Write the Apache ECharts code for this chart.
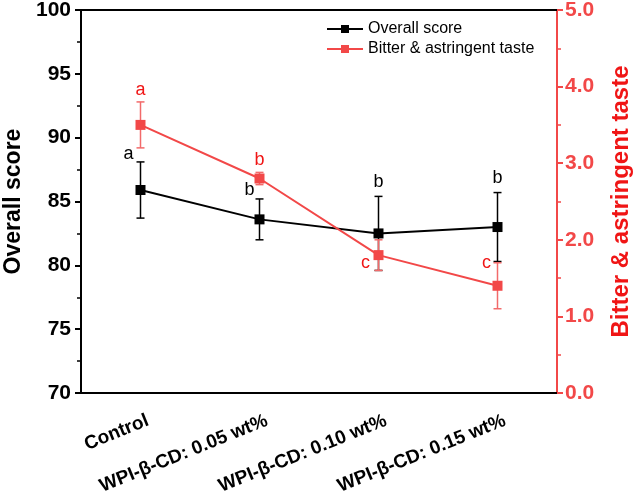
<!DOCTYPE html>
<html>
<head>
<meta charset="utf-8">
<script src="https://cdn.jsdelivr.net/npm/echarts@6/dist/echarts.min.js"></script>
<style>
  html, body { margin: 0; padding: 0; background: #fff; }
  #chart { width: 633px; height: 491px; }
</style>
</head>
<body>
<div id="chart"></div>
<script>
// data
const categories = ['Control', 'WPI-β-CD: 0.05 wt%', 'WPI-β-CD: 0.10 wt%', 'WPI-β-CD: 0.15 wt%'];
const overallScore = [85.9, 83.6, 82.5, 83.0];
const overallErr = [2.2, 1.6, 2.9, 2.7];
const overallLetters = ['a', 'b', 'b', 'b'];
const bitterTaste = [3.5, 2.8, 1.8, 1.4];
const bitterErr = [0.3, 0.08, 0.2, 0.3];
const bitterLetters = ['a', 'b', 'c', 'c'];
const leftTicks = [70, 75, 80, 85, 90, 95, 100];
const rightTicks = [0.0, 1.0, 2.0, 3.0, 4.0, 5.0];

const FONT = '"Liberation Sans", Arial, sans-serif';
const BLACK = '#000';
const RED = '#f24848';
const RED_BAR = '#f26a6a';
const RED_TXT = '#f01515';

// where each significance letter sits relative to its error bar: [end, dx, dy]
const overallLetterPos = [['high', -12, -8], ['high', -10, -9], ['high', 0, -14], ['high', 0, -15]];
const bitterLetterPos = [['high', 0, -12], ['high', 0, -12], ['low', -13, -7], ['high', -11, 0]];

function errorBarSeries(values, errs, letters, letterPos, yAxisIndex, color, textColor) {
  return {
    type: 'custom',
    yAxisIndex: yAxisIndex,
    data: values.map((v, i) => [i, v - errs[i], v + errs[i], letters[i]]),
    encode: { x: 0, y: [1, 2] },
    silent: true,
    renderItem: function (params, api) {
      const i = api.value(0);
      const lo = api.coord([i, api.value(1)]);
      const hi = api.coord([i, api.value(2)]);
      const w = 4;
      const st = { stroke: color, lineWidth: 1.5 };
      const pos = letterPos[params.dataIndex];
      const anchor = pos[0] === 'high' ? hi : lo;
      return {
        type: 'group',
        children: [
          { type: 'line', shape: { x1: hi[0], y1: hi[1], x2: lo[0], y2: lo[1] }, style: st },
          { type: 'line', shape: { x1: hi[0] - w, y1: hi[1], x2: hi[0] + w, y2: hi[1] }, style: st },
          { type: 'line', shape: { x1: lo[0] - w, y1: lo[1], x2: lo[0] + w, y2: lo[1] }, style: st },
          {
            type: 'text',
            style: {
              text: api.value(3),
              x: anchor[0] + pos[1],
              y: anchor[1] + pos[2],
              align: 'center',
              verticalAlign: 'middle',
              fill: textColor,
              font: '18px ' + FONT
            }
          }
        ]
      };
    }
  };
}

const chart = echarts.init(document.getElementById('chart'));

chart.setOption({
  animation: false,
  backgroundColor: '#fff',
  textStyle: { fontFamily: FONT },
  grid: { left: 81, right: 76, top: 10, bottom: 98, containLabel: false, outerBoundsMode: 'none' },
  legend: {
    orient: 'vertical',
    left: 321,
    top: 16,
    itemWidth: 36,
    itemHeight: 10,
    itemGap: 4,
    textStyle: { fontSize: 16, color: '#000', fontFamily: FONT },
    data: ['Overall score', 'Bitter & astringent taste']
  },
  xAxis: [
    {
      type: 'category',
      data: categories,
      boundaryGap: true,
      axisLine: { lineStyle: { color: BLACK, width: 2 } },
      axisTick: { alignWithLabel: true, length: 6, lineStyle: { color: BLACK, width: 2 } },
      axisLabel: {
        rotate: 22,
        margin: 30,
        padding: [0, -8, 0, 0],
        interval: 0,
        color: '#000',
        fontWeight: 'bold',
        fontSize: 19,
        fontFamily: FONT
      },
      splitLine: { show: false }
    },
    {
      // boundary ticks between categories
      type: 'category',
      data: categories,
      position: 'bottom',
      boundaryGap: true,
      axisLine: { show: false },
      axisTick: { length: 4, lineStyle: { color: BLACK, width: 1.5 } },
      axisLabel: { show: false },
      splitLine: { show: false }
    },
    {
      // top frame line
      type: 'category',
      data: categories,
      position: 'top',
      axisLine: { lineStyle: { color: BLACK, width: 2 } },
      axisTick: { show: false },
      axisLabel: { show: false },
      splitLine: { show: false }
    }
  ],
  yAxis: [
    {
      type: 'value',
      min: leftTicks[0],
      max: leftTicks[leftTicks.length - 1],
      interval: 5,
      name: 'Overall score',
      nameLocation: 'middle',
      nameGap: 55,
      nameTextStyle: { fontSize: 23, fontWeight: 'bold', color: '#000', fontFamily: FONT },
      axisLine: { show: true, lineStyle: { color: BLACK, width: 2 } },
      axisTick: { show: true, length: 6, lineStyle: { color: BLACK, width: 2 } },
      minorTick: { show: true, splitNumber: 2, length: 4, lineStyle: { color: BLACK, width: 1.5 } },
      axisLabel: { fontSize: 21, fontWeight: 'bold', color: '#000', margin: 10, fontFamily: FONT },
      splitLine: { show: false }
    },
    {
      type: 'value',
      min: rightTicks[0],
      max: rightTicks[rightTicks.length - 1],
      interval: 1,
      position: 'right',
      name: 'Bitter & astringent taste',
      nameLocation: 'middle',
      nameGap: 52,
      nameRotate: 90,
      nameTextStyle: { fontSize: 24, fontWeight: 'bold', color: RED_TXT, fontFamily: FONT },
      axisLine: { show: true, lineStyle: { color: RED, width: 2 } },
      axisTick: { show: true, length: 6, lineStyle: { color: RED, width: 2 } },
      minorTick: { show: true, splitNumber: 2, length: 4, lineStyle: { color: RED, width: 1.5 } },
      axisLabel: {
        fontSize: 21,
        fontWeight: 'bold',
        color: RED,
        margin: 8,
        fontFamily: FONT,
        formatter: v => v.toFixed(1)
      },
      splitLine: { show: false }
    }
  ],
  series: [
    errorBarSeries(overallScore, overallErr, overallLetters, overallLetterPos, 0, BLACK, '#000'),
    {
      name: 'Overall score',
      type: 'line',
      yAxisIndex: 0,
      data: overallScore,
      symbol: 'rect',
      symbolSize: 10,
      lineStyle: { color: BLACK, width: 2 },
      itemStyle: { color: BLACK }
    },
    errorBarSeries(bitterTaste, bitterErr, bitterLetters, bitterLetterPos, 1, RED_BAR, RED_TXT),
    {
      name: 'Bitter & astringent taste',
      type: 'line',
      yAxisIndex: 1,
      data: bitterTaste,
      symbol: 'rect',
      symbolSize: 10,
      lineStyle: { color: RED, width: 2 },
      itemStyle: { color: RED }
    }
  ]
});
</script>
</body>
</html>
